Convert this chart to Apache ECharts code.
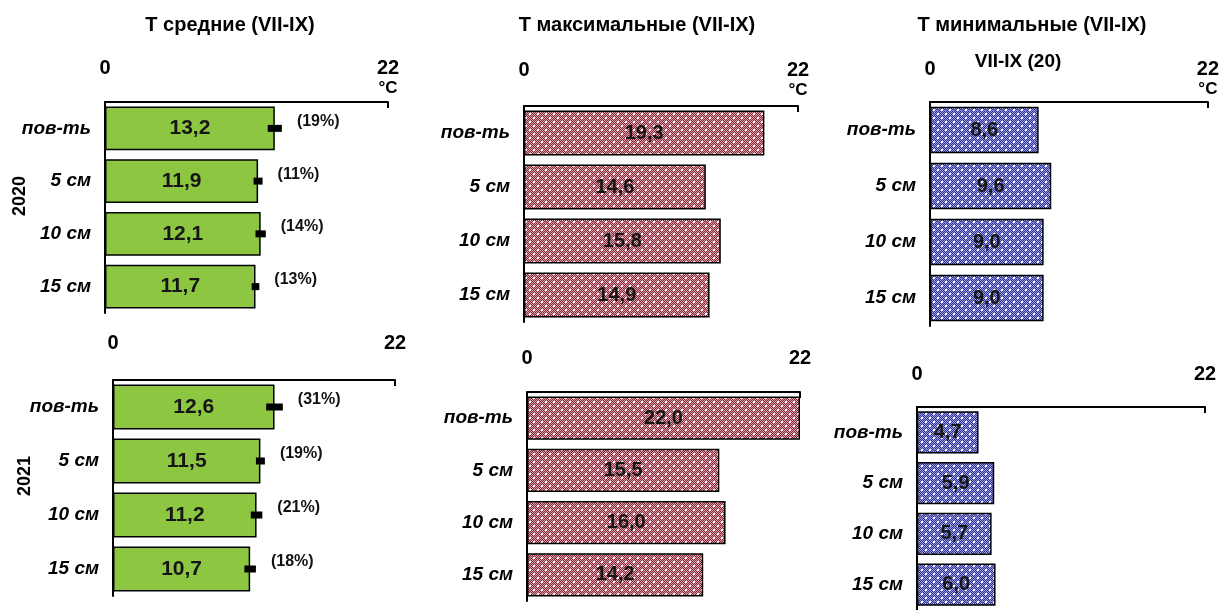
<!DOCTYPE html>
<html><head><meta charset="utf-8">
<script src="https://cdn.jsdelivr.net/npm/echarts@6/dist/echarts.min.js"></script>
<style>html,body{margin:0;padding:0;background:#fff}#c{width:1222px;height:610px}</style>
</head><body><div id="c"></div>
<script>
const cats = ['пов-ть', '5 см', '10 см', '15 см'];
const xTicks = [0, 22];
const avg2020 = [13.2, 11.9, 12.1, 11.7];
const avgErr2020 = [0.55, 0.35, 0.4, 0.3];
const avgPct2020 = ['(19%)', '(11%)', '(14%)', '(13%)'];
const avg2021 = [12.6, 11.5, 11.2, 10.7];
const avgErr2021 = [0.65, 0.35, 0.45, 0.45];
const avgPct2021 = ['(31%)', '(19%)', '(21%)', '(18%)'];
const max2020 = [19.3, 14.6, 15.8, 14.9];
const max2021 = [22.0, 15.5, 16.0, 14.2];
const min2020 = [8.6, 9.6, 9.0, 9.0];
const min2021 = [4.7, 5.9, 5.7, 6.0];
const titles = ['Т средние (VII-IX)', 'Т максимальные (VII-IX)', 'Т минимальные (VII-IX)'];
const subTitle = 'VII-IX (20)';
const years = ['2020', '2021'];

const FONT = '"Liberation Sans", Arial, sans-serif';

function makePattern(dark, light) {
  const c = document.createElement('canvas');
  c.width = 8; c.height = 8;
  const ctx = c.getContext('2d');
  for (let y = 0; y < 8; y++) for (let x = 0; x < 8; x++) {
    ctx.fillStyle = (x + y) % 2 ? dark : light;
    ctx.fillRect(x, y, 1, 1);
  }
  ctx.fillStyle = '#ffffff';
  ctx.fillRect(1, 1, 2, 2);
  ctx.fillRect(5, 5, 2, 2);
  return { image: c, repeat: 'repeat' };
}
const redPat = makePattern('#862838', '#d9a0aa');
const bluePat = makePattern('#2e3394', '#9a9ede');
const green = '#8DC641';

const fmt = v => v.toFixed(1).replace('.', ',');

const grids = [
  { left: 105, top: 102, width: 283, height: 211, margin: 4, unit: true },
  { left: 113, top: 380, width: 282, height: 216, margin: 27, unit: false },
  { left: 524, top: 106, width: 274, height: 216, margin: 6, unit: true },
  { left: 527, top: 392, width: 273, height: 209, margin: 24, unit: false },
  { left: 930, top: 102, width: 280, height: 224, margin: 3, unit: true },
  { left: 917, top: 407, width: 288, height: 207, margin: 23, unit: false }
];

const option = {
  animation: false,
  backgroundColor: '#fff',
  grid: grids.map(g => ({ left: g.left, top: g.top, width: g.width, height: g.height, containLabel: false })),
  xAxis: grids.map((g, i) => ({
    gridIndex: i, type: 'value', position: 'top', min: xTicks[0], max: xTicks[1], interval: 22,
    axisLine: { show: true, lineStyle: { color: '#000', width: 2 } },
    axisTick: { show: true, inside: true, length: 6, lineStyle: { color: '#000', width: 2 } },
    splitLine: { show: false },
    axisLabel: {
      margin: g.margin,
      formatter: v => g.unit ? (v === 22 ? '{v|' + v + '}\n{u|°C}' : '{v|' + v + '}\n{u| }') : '{v|' + v + '}',
      rich: {
        v: { fontFamily: FONT, fontWeight: 'bold', fontSize: 20, color: '#000', lineHeight: 20 },
        u: { fontFamily: FONT, fontWeight: 'bold', fontSize: 17, color: '#000', lineHeight: 20 }
      }
    }
  })),
  yAxis: grids.map((g, i) => ({
    gridIndex: i, type: 'category', data: cats, inverse: true,
    axisLine: { show: true, lineStyle: { color: '#000', width: 2 } },
    axisTick: { show: false },
    axisLabel: { margin: 14, fontFamily: FONT, fontWeight: 'bold', fontStyle: 'italic', fontSize: 19, color: '#000' }
  })),
  graphic: [
    { type: 'text', x: 230, y: 25, style: { text: titles[0], textAlign: 'center', textVerticalAlign: 'middle', font: 'bold 20px ' + FONT, fill: '#000' } },
    { type: 'text', x: 637, y: 25, style: { text: titles[1], textAlign: 'center', textVerticalAlign: 'middle', font: 'bold 20px ' + FONT, fill: '#000' } },
    { type: 'text', x: 1032, y: 25, style: { text: titles[2], textAlign: 'center', textVerticalAlign: 'middle', font: 'bold 20px ' + FONT, fill: '#000' } },
    { type: 'text', x: 1018, y: 62, style: { text: subTitle, textAlign: 'center', textVerticalAlign: 'middle', font: 'bold 19px ' + FONT, fill: '#000' } },
    { type: 'text', x: 20, y: 196, rotation: Math.PI / 2, style: { text: years[0], textAlign: 'center', textVerticalAlign: 'middle', font: 'bold 18px ' + FONT, fill: '#000' } },
    { type: 'text', x: 25, y: 476, rotation: Math.PI / 2, style: { text: years[1], textAlign: 'center', textVerticalAlign: 'middle', font: 'bold 18px ' + FONT, fill: '#000' } }
  ],
  series: []
};

function barSeries(idx, data, color, bold) {
  return {
    type: 'bar', xAxisIndex: idx, yAxisIndex: idx, data: data, barCategoryGap: '17%',
    itemStyle: { color: color, borderColor: '#000', borderWidth: 1.5 },
    label: {
      show: true, position: 'inside', formatter: p => fmt(p.value),
      fontFamily: FONT, fontSize: bold ? 21 : 20, fontWeight: bold ? 'bold' : 600, color: '#151515'
    }
  };
}
function errSeries(idx, vals, errs, pcts) {
  return {
    type: 'custom', xAxisIndex: idx, yAxisIndex: idx, z: 5,
    data: vals.map((v, i) => [v, i, errs[i]]),
    encode: { x: 0, y: 1 },
    renderItem: (params, api) => {
      const v = api.value(0), i = api.value(1), e = api.value(2);
      const p1 = api.coord([v - e, i]);
      const p2 = api.coord([v + e, i]);
      return {
        type: 'group', children: [
          { type: 'rect', shape: { x: p1[0], y: p1[1] - 3.5, width: p2[0] - p1[0], height: 7 }, style: { fill: '#000' } },
          { type: 'text', style: { text: pcts[params.dataIndex], x: p2[0] + 15, y: p1[1] - 7, textVerticalAlign: 'middle', font: 'bold 16px ' + FONT, fill: '#111' } }
        ]
      };
    }
  };
}

option.series.push(barSeries(0, avg2020, green, true));
option.series.push(errSeries(0, avg2020, avgErr2020, avgPct2020));
option.series.push(barSeries(1, avg2021, green, true));
option.series.push(errSeries(1, avg2021, avgErr2021, avgPct2021));
option.series.push(barSeries(2, max2020, redPat, false));
option.series.push(barSeries(3, max2021, redPat, false));
option.series.push(barSeries(4, min2020, bluePat, false));
option.series.push(barSeries(5, min2021, bluePat, false));

const chart = echarts.init(document.getElementById('c'), null, { renderer: 'canvas' });
chart.setOption(option);
</script>
</body></html>
